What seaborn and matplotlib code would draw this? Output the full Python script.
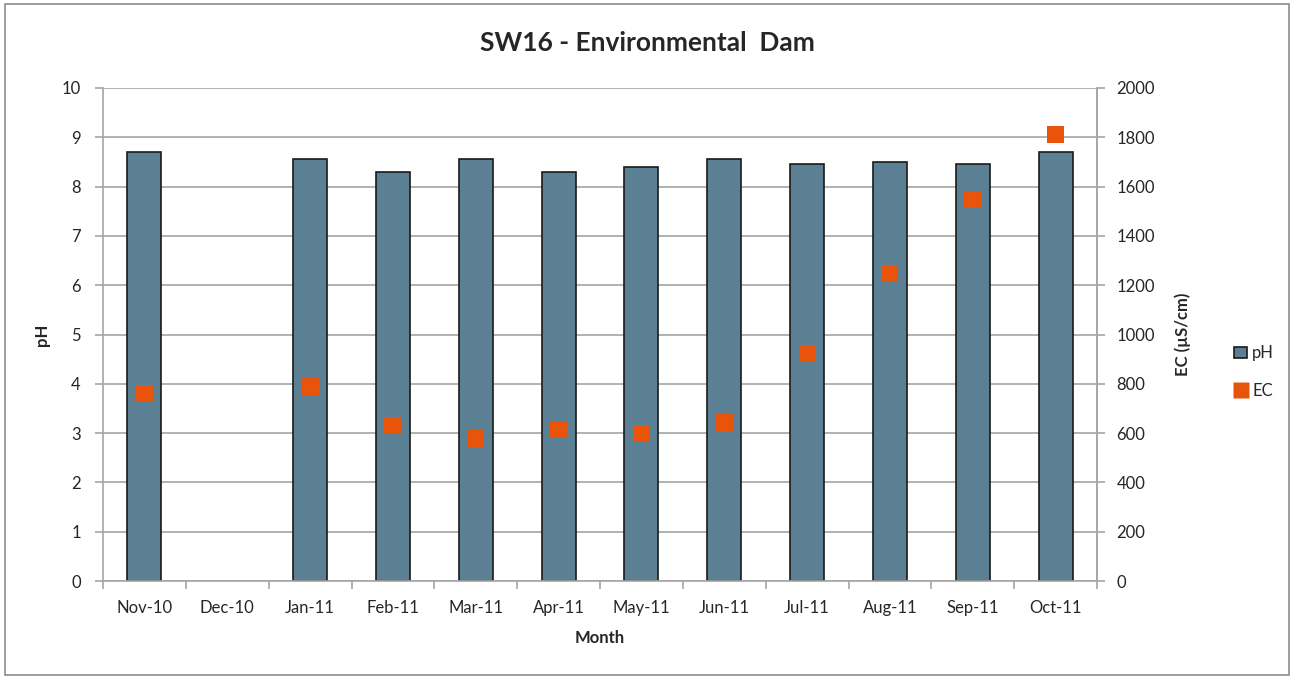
import numpy as np
import pandas as pd
import matplotlib
matplotlib.use("Agg")
import matplotlib.pyplot as plt
import seaborn as sns
from matplotlib.patches import Rectangle
from matplotlib.lines import Line2D

months = ["Nov-10", "Dec-10", "Jan-11", "Feb-11", "Mar-11", "Apr-11",
          "May-11", "Jun-11", "Jul-11", "Aug-11", "Sep-11", "Oct-11"]
ph = [8.7, np.nan, 8.55, 8.3, 8.57, 8.3, 8.4, 8.57, 8.45, 8.5, 8.45, 8.7]
ec = [760, np.nan, 790, 630, 578, 613, 600, 642, 922, 1246, 1546, 1810]

bar_color = "#5B7F93"
ec_color = "#E8540C"
grid_color = "#A6A6A6"

sns.set_theme(style="white")
plt.rcParams["font.family"] = ["Lato", "DejaVu Sans"]

df = pd.DataFrame({"Month": months, "pH": ph, "EC": ec})
df["pos"] = np.arange(len(months))

fig = plt.figure(figsize=(12.94, 6.79), dpi=100)
ax = fig.add_axes([0.0796, 0.1443, 0.7682, 0.7261])

sns.barplot(data=df, x="Month", y="pH", order=months, color=bar_color,
            saturation=1, width=0.41, edgecolor="#1a1a1a", linewidth=1.2, ax=ax)

ax.set_ylim(0, 10)
ax.set_yticks(range(0, 11))
ax.set_xlim(-0.5, len(months) - 0.5)
ax.yaxis.grid(True, color=grid_color, linewidth=1.2)
ax.set_axisbelow(True)
ax.spines["top"].set_visible(False)
for s in ["left", "bottom", "right"]:
    ax.spines[s].set_color(grid_color)
    ax.spines[s].set_linewidth(1.2)

# category boundary ticks below the axis, labels centered in categories
ax.set_xticks(np.arange(len(months)))
ax.set_xticklabels(months, fontsize=12)
ax.tick_params(axis="x", which="major", length=0, pad=14)
ax.set_xticks(np.arange(-0.5, len(months)), minor=True)
ax.tick_params(axis="x", which="minor", length=6, color=grid_color, width=1.2, bottom=True)
ax.tick_params(axis="y", length=6, color=grid_color, width=1.2, left=True, labelsize=12, pad=10)

ax.set_xlabel("Month", fontsize=12, fontweight="bold", labelpad=10)
ax.set_ylabel("pH", fontsize=12, fontweight="bold", labelpad=8)

ax2 = ax.twinx()
sns.scatterplot(data=df, x="pos", y="EC", marker="s", s=150, color=ec_color,
                edgecolor="none", ax=ax2, zorder=5)
ax2.set_ylim(0, 2000)
ax2.set_yticks(range(0, 2001, 200))
ax2.set_xlim(-0.5, len(months) - 0.5)
for s in ["top", "left", "bottom"]:
    ax2.spines[s].set_visible(False)
ax2.spines["right"].set_color(grid_color)
ax2.spines["right"].set_linewidth(1.2)
ax2.tick_params(axis="y", length=6, color=grid_color, width=1.2, right=True, labelsize=12, pad=8)
ax2.set_ylabel("EC (\u00b5S/cm)", fontsize=12, fontweight="bold", labelpad=14)

fig.suptitle("SW16 - Environmental  Dam", fontsize=19, fontweight="bold",
             y=0.937, va="center")

handles = [Rectangle((0, 0), 1, 1, facecolor=bar_color, edgecolor="#1a1a1a", linewidth=1.2),
           Line2D([], [], marker="s", linestyle="none", markersize=11,
                  markerfacecolor=ec_color, markeredgecolor="none")]
fig.legend(handles, ["pH", "EC"], loc="center left", bbox_to_anchor=(0.942, 0.452),
           frameon=False, fontsize=12, labelspacing=1.3, handlelength=0.8,
           handletextpad=0.3)

# outer chart frame
fig.patches.append(Rectangle((0.004, 0.006), 0.992, 0.988, transform=fig.transFigure,
                             fill=False, edgecolor="#8c8c8c", linewidth=1.2))

fig.savefig("out.png", dpi=100)
